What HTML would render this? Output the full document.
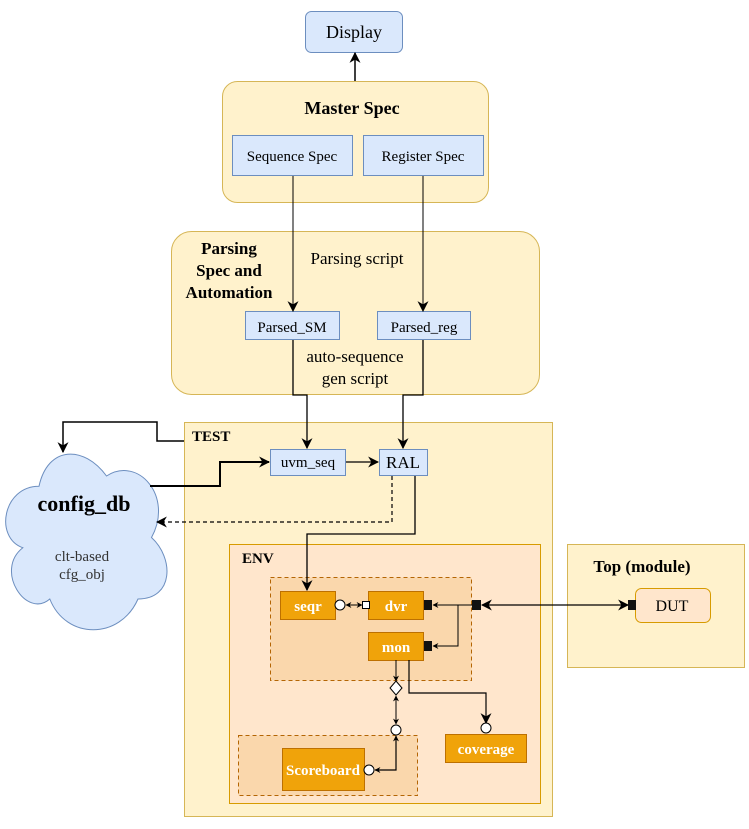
<!DOCTYPE html>
<html><head><meta charset="utf-8"><style>
html,body{margin:0;padding:0;background:#fff;}
svg text{font-family:"Liberation Serif","Times New Roman",serif;}
</style></head><body>
<svg width="749" height="824" viewBox="0 0 749 824" xmlns="http://www.w3.org/2000/svg">
<defs>
<marker id="a" viewBox="0 0 10 10" refX="9" refY="5" markerWidth="11" markerHeight="11" markerUnits="userSpaceOnUse" orient="auto-start-reverse"><path d="M0,0 L10,5 L0,10 L3,5 Z" fill="#000"/></marker>
<marker id="s" viewBox="0 0 10 10" refX="9" refY="5" markerWidth="6" markerHeight="6" markerUnits="userSpaceOnUse" orient="auto-start-reverse"><path d="M0,0 L10,5 L0,10 L3,5 Z" fill="#000"/></marker>
</defs>

<rect x="305.5" y="11.5" width="97" height="41" rx="6" fill="#dae8fc" stroke="#6c8ebf"/>
<text x="354" y="38" font-size="18" text-anchor="middle">Display</text>
<line x1="355" y1="81" x2="355" y2="53" stroke="#000" stroke-width="1.5" marker-end="url(#a)"/>

<rect x="222.5" y="81.5" width="266" height="121" rx="15" fill="#fff2cc" stroke="#d6b656"/>
<text x="352" y="114" font-size="18" font-weight="bold" text-anchor="middle">Master Spec</text>
<rect x="232.5" y="135.5" width="120" height="40" fill="#dae8fc" stroke="#6c8ebf"/>
<text x="292" y="161" font-size="15" text-anchor="middle">Sequence Spec</text>
<rect x="363.5" y="135.5" width="120" height="40" fill="#dae8fc" stroke="#6c8ebf"/>
<text x="423" y="161" font-size="15" text-anchor="middle">Register Spec</text>

<rect x="171.5" y="231.5" width="368" height="163" rx="20" fill="#fff2cc" stroke="#d6b656"/>
<g font-size="17" font-weight="bold" text-anchor="middle">
<text x="229" y="254">Parsing</text><text x="229" y="276">Spec and</text><text x="229" y="298">Automation</text></g>
<text x="357" y="264" font-size="17" text-anchor="middle">Parsing script</text>
<rect x="245.5" y="311.5" width="94" height="28" fill="#dae8fc" stroke="#6c8ebf"/>
<text x="292" y="332" font-size="15" text-anchor="middle">Parsed_SM</text>
<rect x="377.5" y="311.5" width="93" height="28" fill="#dae8fc" stroke="#6c8ebf"/>
<text x="424" y="332" font-size="15" text-anchor="middle">Parsed_reg</text>
<text x="355" y="362" font-size="17" text-anchor="middle">auto-sequence</text>
<text x="355" y="384" font-size="17" text-anchor="middle">gen script</text>
<line x1="293" y1="176" x2="293" y2="311" stroke="#000" marker-end="url(#a)"/>
<line x1="423" y1="176" x2="423" y2="311" stroke="#000" marker-end="url(#a)"/>

<rect x="184.5" y="422.5" width="368" height="394" fill="#fff2cc" stroke="#d6b656"/>
<text x="192" y="441" font-size="15" font-weight="bold">TEST</text>
<polyline points="293,340 293,395 307,395 307,448" fill="none" stroke="#000" stroke-width="1.3" marker-end="url(#a)"/>
<polyline points="423,340 423,395 403,395 403,448" fill="none" stroke="#000" stroke-width="1.3" marker-end="url(#a)"/>

<rect x="270.5" y="449.5" width="75" height="26" fill="#dae8fc" stroke="#6c8ebf"/>
<text x="308" y="467" font-size="15" text-anchor="middle">uvm_seq</text>
<rect x="379.5" y="449.5" width="48" height="26" fill="#dae8fc" stroke="#6c8ebf"/>
<text x="403" y="468" font-size="17" text-anchor="middle">RAL</text>
<line x1="346" y1="462" x2="378" y2="462" stroke="#000" stroke-width="1.3" marker-end="url(#a)"/>

<path d="M25 25 C5 25 0 50 16 55 C0 66 18 90 31 80 C40 100 70 100 80 80 C100 80 100 60 87.5 50 C100 30 80 10 62.5 20 C50 5 30 5 25 25 Z" transform="translate(-6,435) scale(1.8,2.05)" fill="#dae8fc" stroke="#6c8ebf" vector-effect="non-scaling-stroke"/>
<text x="84" y="511" font-size="22" font-weight="bold" text-anchor="middle">config_db</text>
<text x="82" y="561" font-size="15" text-anchor="middle" fill="#333">clt-based</text>
<text x="82" y="579" font-size="15" text-anchor="middle" fill="#333">cfg_obj</text>

<polyline points="184,441 157,441 157,422 63,422 63,452" fill="none" stroke="#000" stroke-width="1.5" marker-end="url(#a)"/>
<polyline points="150,486 220,486 220,462 269,462" fill="none" stroke="#000" stroke-width="2" marker-end="url(#a)"/>
<polyline points="392,476 392,522 157,522" fill="none" stroke="#000" stroke-width="1.2" stroke-dasharray="4,3" marker-end="url(#a)"/>

<rect x="229.5" y="544.5" width="311" height="259" fill="#ffe6cc" stroke="#d79b00"/>
<text x="242" y="563" font-size="15" font-weight="bold">ENV</text>

<rect x="270.5" y="577.5" width="201" height="103" fill="#fad7ac" stroke="#b46504" stroke-dasharray="4,3"/>
<rect x="238.5" y="735.5" width="179" height="60" fill="#fad7ac" stroke="#b46504" stroke-dasharray="4,3"/>
<polyline points="415,476 415,534 307,534 307,590" fill="none" stroke="#000" stroke-width="1.3" marker-end="url(#a)"/>

<g fill="#f0a30a" stroke="#bd7000">
<rect x="280.5" y="591.5" width="55" height="28"/>
<rect x="368.5" y="591.5" width="55" height="28"/>
<rect x="368.5" y="632.5" width="55" height="28"/>
<rect x="445.5" y="734.5" width="81" height="28"/>
<rect x="282.5" y="748.5" width="82" height="42"/>
</g>
<g fill="#fff" font-size="15" font-weight="bold" text-anchor="middle">
<text x="308" y="611">seqr</text>
<text x="396" y="611">dvr</text>
<text x="396" y="652">mon</text>
<text x="486" y="754">coverage</text>
<text x="323" y="775">Scoreboard</text>
</g>

<line x1="346" y1="605" x2="362" y2="605" stroke="#000" marker-start="url(#s)" marker-end="url(#s)"/>
<circle cx="340" cy="605" r="5" fill="#fff" stroke="#000"/>
<rect x="362.5" y="601.5" width="7" height="7" fill="#fff" stroke="#000"/>

<rect x="567.5" y="544.5" width="177" height="123" fill="#fff2cc" stroke="#d6b656"/>
<text x="642" y="572" font-size="17" font-weight="bold" text-anchor="middle">Top (module)</text>
<rect x="635.5" y="588.5" width="75" height="34" rx="6" fill="#ffe6cc" stroke="#d79b00"/>
<text x="672" y="611" font-size="16" text-anchor="middle">DUT</text>
<line x1="482" y1="605" x2="628" y2="605" stroke="#000" stroke-width="1.3" marker-start="url(#a)" marker-end="url(#a)"/>
<rect x="628" y="600" width="8" height="10" fill="#111"/>
<rect x="472" y="600" width="9" height="10" fill="#111"/>
<rect x="424" y="600" width="8" height="10" fill="#111"/>
<rect x="424" y="641" width="8" height="10" fill="#111"/>
<line x1="472" y1="605" x2="433" y2="605" stroke="#000" marker-end="url(#s)"/>
<polyline points="458,605 458,646 433,646" fill="none" stroke="#000" marker-end="url(#s)"/>

<line x1="396" y1="660" x2="396" y2="681" stroke="#000" marker-end="url(#s)"/>
<path d="M396,681 L402,688 L396,695 L390,688 Z" fill="#fff" stroke="#000"/>
<line x1="396" y1="696" x2="396" y2="724" stroke="#000" marker-start="url(#s)" marker-end="url(#s)"/>
<circle cx="396" cy="730" r="5" fill="#fff" stroke="#000"/>
<polyline points="396,736 396,770 375,770" fill="none" stroke="#000" stroke-width="1.2" marker-start="url(#s)" marker-end="url(#s)"/>
<circle cx="369" cy="770" r="5" fill="#fff" stroke="#000"/>
<polyline points="409,660 409,693 486,693 486,723" fill="none" stroke="#000" stroke-width="1.2" marker-end="url(#a)"/>
<circle cx="486" cy="728" r="5" fill="#fff" stroke="#000"/>
</svg>
</body></html>
